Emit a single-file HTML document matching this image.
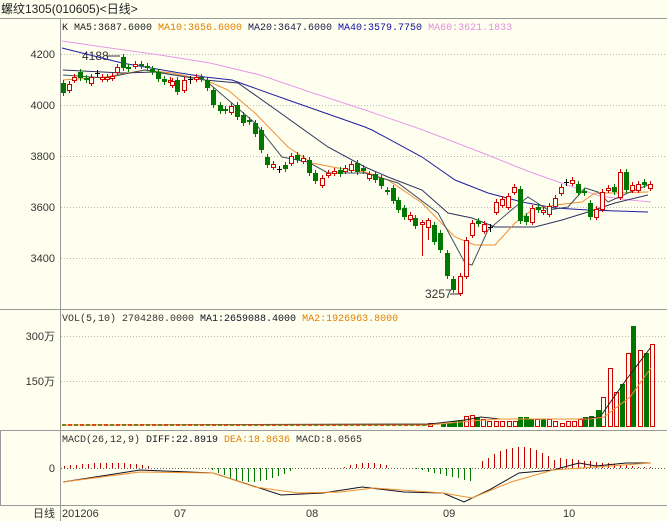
<!DOCTYPE html>
<html><head><meta charset="utf-8"><style>
html,body{margin:0;padding:0;background:#FFFFF0;}
svg{display:block}
text{font-family:"Liberation Mono","Noto Sans CJK SC",monospace;font-size:10px}
.t{font-family:"Liberation Sans","Noto Sans CJK SC",sans-serif;font-size:12px;fill:#222}
.ax{font-family:"Liberation Sans","Noto Sans CJK SC",sans-serif;font-size:11px;fill:#333}
</style></head><body>
<svg id="s" width="667" height="521" xmlns="http://www.w3.org/2000/svg">
<rect width="667" height="521" fill="#FFFFF0"/>
<text class="t" x="1" y="13">螺纹1305(010605)&lt;日线&gt;</text>
<g stroke="#999" stroke-width="1" fill="none">
<line x1="0" y1="18.5" x2="667" y2="18.5"/>
<line x1="60.5" y1="18" x2="60.5" y2="521"/>
<line x1="0" y1="309.5" x2="667" y2="309.5"/>
<line x1="0" y1="430.5" x2="667" y2="430.5"/>
<line x1="0" y1="505.5" x2="667" y2="505.5"/>
<line x1="0.5" y1="430" x2="0.5" y2="505"/>
</g>
<g stroke="#bbb" stroke-dasharray="1,2">
<line x1="61" y1="54.5" x2="667" y2="54.5"/>
<line x1="61" y1="105.5" x2="667" y2="105.5"/>
<line x1="61" y1="156.5" x2="667" y2="156.5"/>
<line x1="61" y1="207.5" x2="667" y2="207.5"/>
<line x1="61" y1="258.5" x2="667" y2="258.5"/>
<line x1="61" y1="336.5" x2="667" y2="336.5"/>
<line x1="61" y1="381.5" x2="667" y2="381.5"/>
<line x1="61" y1="468.5" x2="667" y2="468.5" stroke="#666"/>
</g>
<g class="ax" text-anchor="end">
<text class="ax" x="55" y="58">4200</text>
<text class="ax" x="55" y="109">4000</text>
<text class="ax" x="55" y="160">3800</text>
<text class="ax" x="55" y="211">3600</text>
<text class="ax" x="55" y="262">3400</text>
<text class="ax" x="55" y="340">300万</text>
<text class="ax" x="55" y="385">150万</text>
<text class="ax" x="55" y="472">0</text>
<text class="ax" x="55" y="517">日线</text>
</g>
<g class="ax">
<text class="ax" x="62" y="517">201206</text>
<text class="ax" x="174" y="517">07</text>
<text class="ax" x="306" y="517">08</text>
<text class="ax" x="443" y="517">09</text>
<text class="ax" x="563" y="517">10</text>
</g>
<text x="62" y="30"><tspan fill="#222">K  MA5:3687.6000 </tspan><tspan fill="#E08000">MA10:3656.6000 </tspan><tspan fill="#222050">MA20:3647.6000 </tspan><tspan fill="#1010A0">MA40:3579.7750 </tspan><tspan fill="#E090E0">MA60:3621.1833</tspan></text>
<text x="62" y="321"><tspan fill="#333">VOL(5,10) 2704280.0000 </tspan><tspan fill="#112">MA1:2659088.4000 </tspan><tspan fill="#E08000">MA2:1926963.8000</tspan></text>
<text x="62" y="442"><tspan fill="#333">MACD(26,12,9) </tspan><tspan fill="#112">DIFF:22.8919 </tspan><tspan fill="#E08000">DEA:18.8636 </tspan><tspan fill="#333">MACD:8.0565</tspan></text>
<text class="ax" x="82" y="60" style="font-size:12px" fill="#223">4188</text>
<line x1="107" y1="56" x2="120" y2="56" stroke="#333"/>
<text class="ax" x="425" y="298" style="font-size:12px" fill="#223">3257</text>
<line x1="450" y1="294" x2="461" y2="294" stroke="#333"/>
<g id="g"></g>
</svg>
<script>
var NS="http://www.w3.org/2000/svg",g=document.getElementById('g');
function el(n,a){var e=document.createElementNS(NS,n);for(var k in a)e.setAttribute(k,a[k]);g.appendChild(e);return e;}
function pl(pts,c,w){el('polyline',{points:pts.map(function(p){return p.join(',')}).join(' '),fill:'none',stroke:c,'stroke-width':w||1});}
// MAs
pl([[62,41],[110,48],[160,55],[210,63],[260,75],[310,92],[365,110],[423,130],[480,152],[530,172],[570,186],[600,196],[630,200],[651,202]],'#E898E8');
pl([[62,48],[122,63],[180,73],[205,77],[232,80],[288,100],[365,127],[372,130],[422,157],[455,180],[488,193],[522,202],[555,208],[588,210],[648,212]],'#2020A0');
pl([[63,70],[122,73],[155,72],[205,80],[238,83],[272,107],[328,147],[365,167],[388,177],[422,190],[448,213],[472,218],[495,227],[535,227],[562,220],[588,212],[615,203],[648,195]],'#303060');
pl([[63,80],[105,77],[145,70],[172,73],[205,80],[228,90],[255,113],[288,147],[312,163],[338,168],[365,172],[388,180],[422,203],[455,237],[475,245],[495,245],[515,223],[532,210],[555,205],[582,202],[595,193],[615,193],[648,192]],'#F09030');
pl([[63,75],[105,78],[145,70],[205,80],[255,123],[282,157],[308,162],[328,173],[365,173],[398,183],[438,213],[465,263],[472,265],[488,230],[515,207],[528,197],[548,210],[568,207],[585,188],[598,192],[608,202],[628,193],[648,185]],'#405060');
// candles [x,top,bottom,color,wt,wb]
var C=[[63,83,93,'g'],[69,84,90,'r'],[74,77,80,'r'],[80,72,78,'g'],[86,78,80,'g'],[91,77,83,'r'],[97,73,74,'k'],[102,77,79,'r'],[107,77,79,'r'],[112,76,78,'r'],[117,67,72,'r'],[123,57,68,'g'],[128,67,69,'g'],[135,64,66,'r'],[141,64,66,'g'],[147,66,68,'g'],[152,69,72,'g'],[158,72,79,'g'],[164,79,82,'g'],[170,80,82,'r'],[172,81,85,'r'],[177,80,92,'g'],[184,80,90,'r'],[190,79,81,'k'],[196,77,79,'r'],[201,77,79,'g'],[207,80,88,'g'],[213,90,105,'g'],[220,105,111,'g'],[225,109,111,'g'],[231,106,112,'r'],[237,105,117,'g'],[243,115,123,'g'],[249,120,122,'g'],[255,123,134,'g'],[261,130,150,'g'],[267,157,165,'g'],[273,164,167,'r'],[279,169,170,'k'],[285,165,169,'g'],[291,156,163,'r'],[297,155,160,'g'],[303,158,161,'r'],[309,160,173,'g'],[315,173,181,'g'],[322,178,185,'r'],[328,173,175,'r'],[334,171,173,'r'],[340,170,174,'g'],[345,168,171,'r'],[351,164,170,'r'],[357,163,172,'g'],[363,168,171,'g'],[369,174,178,'r'],[375,174,180,'g'],[381,178,186,'g'],[387,190,192,'g'],[393,188,201,'g'],[398,200,210,'g'],[404,208,217,'g'],[410,215,219,'r'],[415,218,226,'g'],[422,222,224,'r',220,256],[428,220,227,'r',218,240],[434,225,242,'g'],[440,233,250,'g'],[447,253,276,'g'],[453,279,290,'g'],[460,276,293,'r'],[466,240,276,'r'],[472,223,235,'r'],[478,221,224,'g'],[484,224,231,'r'],[490,227,229,'k'],[496,202,212,'r'],[502,199,205,'r'],[508,196,207,'r'],[514,187,192,'r'],[520,189,221,'g'],[526,216,222,'g'],[532,208,222,'r'],[538,207,210,'g'],[543,210,212,'r'],[549,206,214,'r'],[555,198,206,'r'],[561,187,193,'r'],[566,182,183,'k'],[572,180,183,'r'],[578,184,193,'g'],[584,191,193,'g'],[590,203,217,'g'],[596,209,217,'r'],[602,192,209,'r'],[608,188,190,'r'],[614,187,192,'g'],[620,172,197,'r'],[626,172,190,'g'],[632,185,190,'r'],[638,184,190,'r'],[644,182,185,'g'],[650,184,188,'r']];
C.forEach(function(c){var x=c[0],col=c[3]=='r'?'#D00000':(c[3]=='g'?'#007800':'#000');
 var wt=c[4]||c[1]-3,wb=c[5]||c[2]+3;
 el('line',{x1:x+.5,y1:wt,x2:x+.5,y2:wb,stroke:col});
 if(c[3]=='k'){el('line',{x1:x-2,y1:c[1]+.5,x2:x+3,y2:c[1]+.5,stroke:col});return;}
 if(c[3]=='r')el('rect',{x:x-1.5,y:c[1]+.5,width:4,height:Math.max(1,c[2]-c[1]),fill:'#FFFFF0',stroke:col});
 else el('rect',{x:x-2,y:c[1],width:5,height:Math.max(1,c[2]-c[1]),fill:col});
});
// volume baseline dashes
for(var x=62;x<428;x+=6){el('rect',{x:x,y:424,width:4,height:2,fill:(x/6|0)%2?'#D00000':'#007800'});}
var V=[[430,423,'r'],[443,424,'g'],[449,423,'g'],[454,421,'g'],[460,420,'g'],[466,416,'r'],[472,415,'r'],[477,417,'g'],[483,419,'r'],[489,421,'r'],[496,421,'r'],[502,421,'r'],[509,421,'r'],[515,421,'r'],[520,417,'g'],[526,417,'g'],[531,419,'g'],[537,419,'r'],[543,419,'g'],[549,419,'r'],[555,421,'r'],[562,423,'r'],[568,421,'r'],[574,421,'r'],[580,419,'r'],[585,417,'g'],[591,416,'g'],[598,410,'g'],[603,397,'r'],[610,368,'r'],[616,392,'r'],[622,384,'g'],[628,353,'r'],[633,326,'g'],[640,350,'r'],[646,353,'g'],[652,344,'r']];
V.forEach(function(v){if(v[2]=='r')el('rect',{x:v[0]-1.5,y:v[1]+.5,width:4,height:426-v[1],fill:'none',stroke:'#D00000'});else el('rect',{x:v[0]-2,y:v[1],width:5,height:427-v[1],fill:'#007800'});});
pl([[62,425],[430,424],[465,420],[481,417],[500,419],[580,419],[600,417],[626,380],[651,347]],'#222');
pl([[62,425],[430,425],[470,421],[500,419],[590,419],[604,417],[630,397],[651,368]],'#F09030');
// MACD hist
function hb(x,h){el('line',{x1:x+.5,y1:468,x2:x+.5,y2:468-h,stroke:h>0?'#C00000':'#007800'});}
for(var x=64;x<152;x+=6)hb(x,Math.round(2+3*Math.sin((x-64)/88*Math.PI)));
for(var x=212;x<292;x+=6)hb(x,-Math.round(2+12*Math.sin((x-212)/80*Math.PI)));
for(var x=344;x<392;x+=6)hb(x,Math.round(1+4*Math.sin((x-344)/48*Math.PI)));
for(var x=416;x<474;x+=6)hb(x,-Math.round(1+(x-416)/58*13));
for(var x=482;x<560;x+=6)hb(x,Math.round(4+17*Math.sin((x-478)/82*Math.PI)));
for(var x=560;x<652;x+=6)hb(x,Math.max(1,Math.round(10-(x-560)/9)));
pl([[63,482],[140,470],[213,473],[281,495],[323,493],[362,487],[404,492],[443,493],[464,502],[489,490],[519,473],[553,470],[579,463],[596,466],[626,463],[651,463]],'#112');
pl([[63,482],[140,472],[213,473],[255,487],[298,493],[340,492],[374,488],[443,493],[472,498],[511,482],[553,470],[596,467],[651,463]],'#F09030');
</script>
</body></html>
